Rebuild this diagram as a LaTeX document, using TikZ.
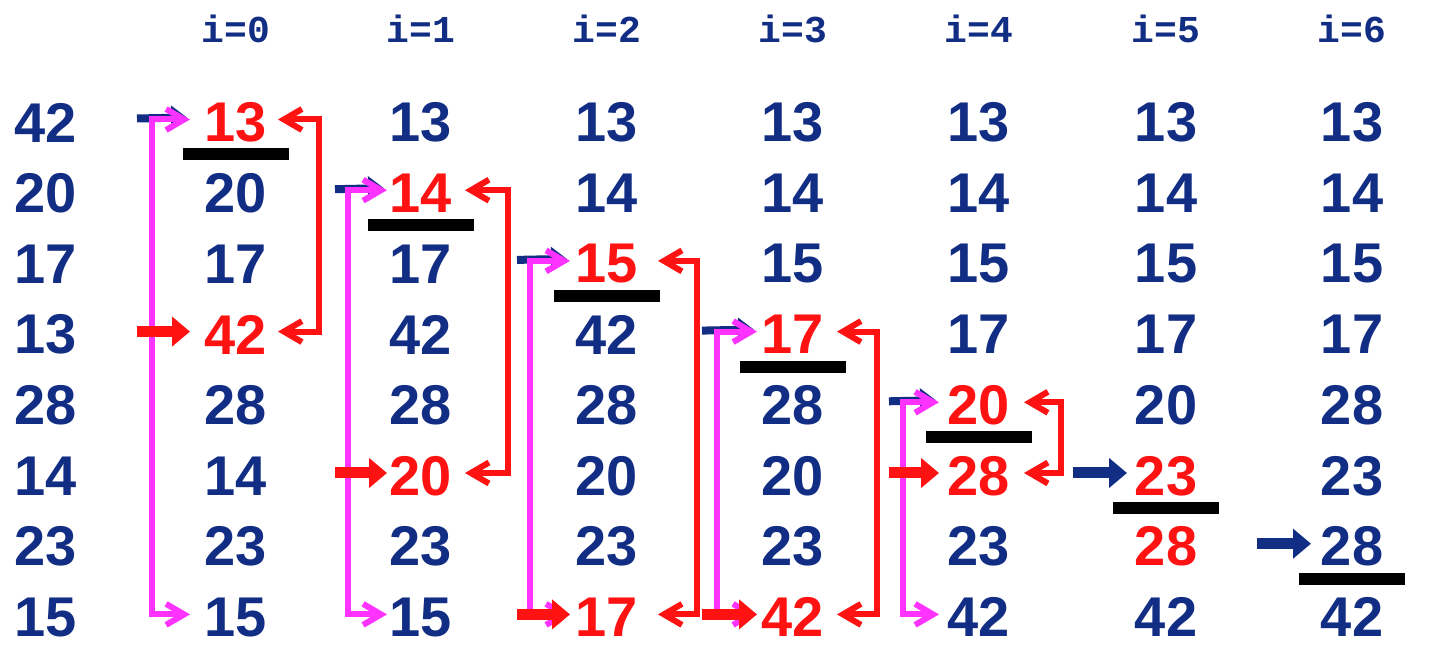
\documentclass[tikz,border=0pt]{standalone}
\usepackage{fontspec}
\setmainfont{Liberation Sans}
\newfontfamily\hdrfont{Liberation Mono}
\usetikzlibrary{arrows.meta,calc}
\definecolor{navy}{RGB}{18,45,132}
\definecolor{hired}{RGB}{255,18,18}
\definecolor{mag}{RGB}{255,51,255}
\begin{document}
\begin{tikzpicture}[x=0.5pt,y=-0.5pt,
  num/.style={font=\fontsize{28}{30}\selectfont\bfseries, inner sep=0pt},
  nv/.style={text=navy},
  rd/.style={text=hired},
  hdr/.style={font=\hdrfont\fontsize{19}{20}\selectfont\bfseries, text=navy, inner sep=0pt, anchor=base},
  bar/.style={draw=black, line width=6pt},
  stub/.style={draw=navy, line width=4pt, -{Triangle[length=8pt,width=12pt]}},
  magarr/.style={draw=mag, line width=3pt, line join=miter,
    arrows={Straight Barb[length=9pt,width=10.5pt]-Straight Barb[length=9pt,width=10.5pt]}},
  brk/.style={draw=hired, line width=3pt, line join=miter,
    arrows={Straight Barb[length=9pt,width=10.5pt]-Straight Barb[length=9pt,width=10.5pt]}},
  thickred/.style={draw=hired, line width=5.5pt, -{Triangle[length=9pt,width=14.5pt]}},
  thicknavy/.style={draw=navy, line width=5.5pt, -{Triangle[length=9pt,width=14.5pt]}}
]
\useasboundingbox (0,0) rectangle (1436,672);

% headers
\foreach \k/\cx/\i in {1/236/0,2/421/1,3/607/2,4/793/3,5/979/4,6/1166/5,7/1352/6}
  \node[hdr] (h\k) at (\cx,43) {i=\i};

% numbers
\foreach \k/\cx/\vals in {
0/46/{42/nv,20/nv,17/nv,13/nv,28/nv,14/nv,23/nv,15/nv},
1/236/{13/rd,20/nv,17/nv,42/rd,28/nv,14/nv,23/nv,15/nv},
2/421/{13/nv,14/rd,17/nv,42/nv,28/nv,20/rd,23/nv,15/nv},
3/607/{13/nv,14/nv,15/rd,42/nv,28/nv,20/nv,23/nv,17/rd},
4/793/{13/nv,14/nv,15/nv,17/rd,28/nv,20/nv,23/nv,42/rd},
5/979/{13/nv,14/nv,15/nv,17/nv,20/rd,28/rd,23/nv,42/nv},
6/1166/{13/nv,14/nv,15/nv,17/nv,20/nv,23/rd,28/rd,42/nv},
7/1352/{13/nv,14/nv,15/nv,17/nv,28/nv,23/nv,28/nv,42/nv}}{
  \foreach \v/\c [count=\r from 0] in \vals
    \node[num,\c] (n\k\r) at (\cx,{122.5+70.7*\r}) {\v};
}

% sorted-boundary bars
\foreach \k/\r in {1/0,2/1,3/2,4/3,5/4,6/5,7/6}
  \draw[bar] ($(n\k\r)+(-53,32)$) -- ($(n\k\r)+(53,32)$);

% search range, minimum and swap for passes i=0..4
\foreach \k/\r/\m/\sx/\vx/\tx/\bx/\bt in {
1/0/3/-99/-84/-46/83/42,
2/1/5/-86/-73/-34/87/44,
3/2/7/-90/-77/-37/90/51,
4/3/7/-91/-76/-36/84/44,
5/4/5/-90/-76/-40/82/45}{
  \draw[stub] ($(n\k\r)+(\sx,-4)$) -- ($(n\k\r)+(\tx-3,-5)$);
  \draw[magarr] ($(n\k\r)+(\tx,-3)$) -| ($(n\k7)+(\vx,-3)$) -- ($(n\k7)+(\tx,-3)$);
  \draw[thickred] ($(n\k\m)+(\sx,-3)$) -- ($(n\k\m)+(\tx,-3)$);
  \draw[brk] ($(n\k\r)+(\bt,-3)$) -- ($(n\k\r)+(\bx,-3)$) |- ($(n\k\m)+(\bt,-3)$);
}

% passes i=5 and i=6
\draw[thicknavy] ($(n65)+(-93,-3)$) -- ($(n65)+(-39,-3)$);
\draw[thicknavy] ($(n76)+(-95,-3)$) -- ($(n76)+(-41,-3)$);
\end{tikzpicture}
\end{document}
